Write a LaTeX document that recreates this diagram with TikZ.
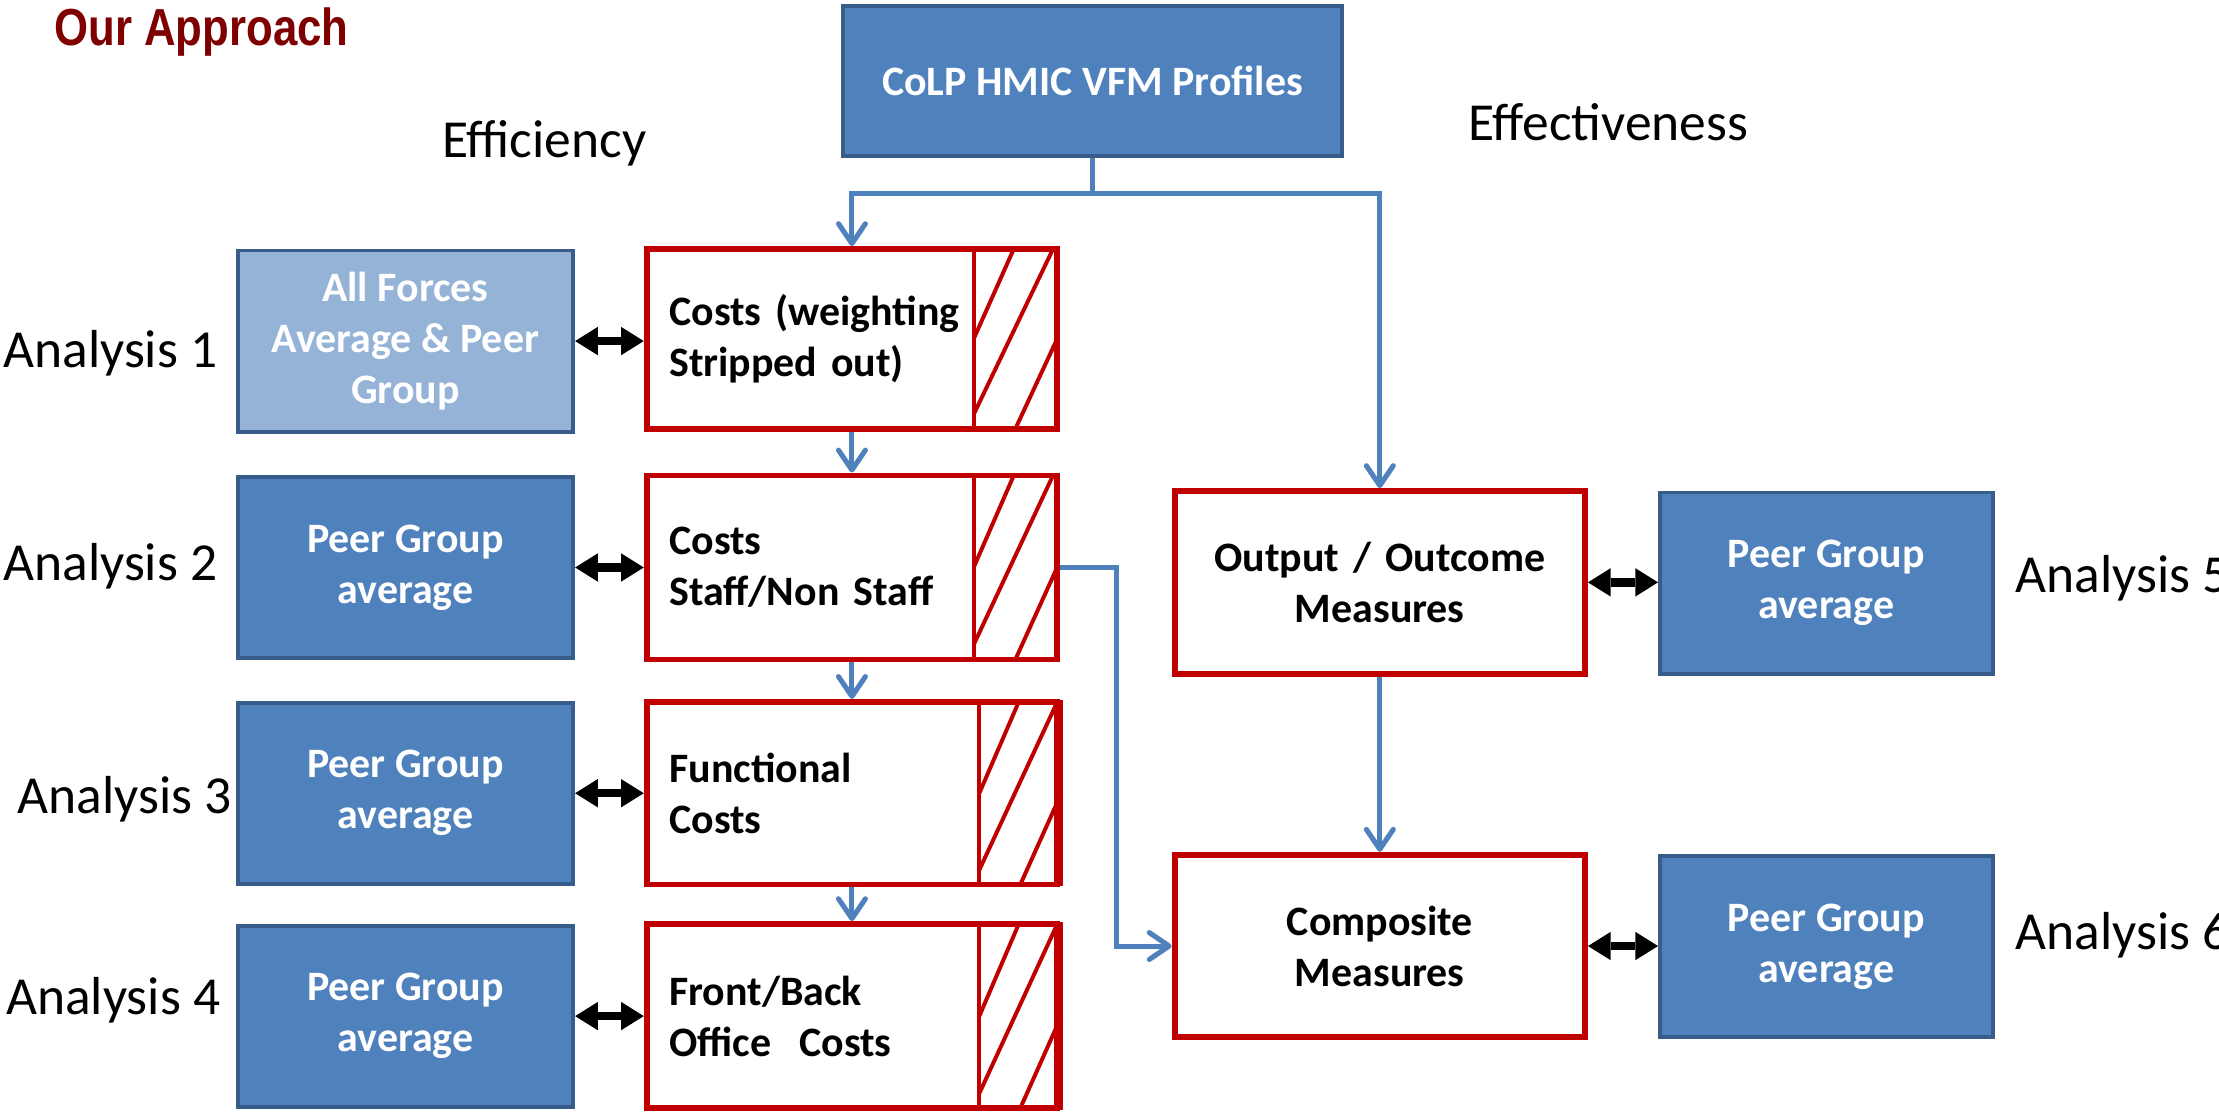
\documentclass[tikz,border=0pt]{standalone}
\usepackage{fontspec}
\setmainfont{Carlito}
\newfontfamily\ttlfont[FakeStretch=0.84]{Liberation Sans}
\usetikzlibrary{arrows.meta}
\definecolor{blueF}{HTML}{4F81BD}
\definecolor{blueD}{HTML}{385D8A}
\definecolor{lightB}{HTML}{95B3D7}
\definecolor{redB}{HTML}{C00000}
\definecolor{titleC}{HTML}{7F0000}
\newcommand\boxfont{\fontsize{14.8pt}{18pt}\selectfont\bfseries}
\newcommand\labfont{\fontsize{18.9pt}{22pt}\selectfont}
\newcommand\hatchstrip[4]{%
  \draw[hatchline] (#1,#3) rectangle (#2,#4);
  \draw[hatchline] ({0.52*#1+0.48*#2},#3) -- (#1,{0.5*#3+0.5*#4});
  \draw[hatchline] ({0.05*#1+0.95*#2},#3) -- (#1,{0.08*#3+0.92*#4});
  \draw[hatchline] (#2,{0.5*#3+0.5*#4}) -- ({0.5*#1+0.5*#2},#4);
}
\begin{document}
\begin{tikzpicture}[x=0.5pt,y=-0.5pt,
  bluebox/.style={draw=blueD, fill=blueF, line width=1.4pt, text=white, font=\boxfont, align=center, inner sep=0pt},
  lightbox/.style={bluebox, fill=lightB},
  redbox/.style={draw=redB, fill=white, line width=2.1pt, font=\boxfont, inner xsep=8pt, inner ysep=0pt,
                 text width=129pt, minimum width=145pt, align=left},
  hatchline/.style={draw=redB, line width=1.4pt},
  lab/.style={anchor=base west, inner sep=0pt, font=\labfont},
  bline/.style={draw=blueF, line width=1.8pt},
  barrow/.style={bline, -{Straight Barb[length=7pt,width=9.5pt,round]}},
  dbl/.style={draw=black, line width=3pt,
              {Triangle[length=8pt,width=10pt,line width=0pt]}-{Triangle[length=8pt,width=10pt,line width=0pt]}}
]
\useasboundingbox (0,0) rectangle (1568,786);

\node[anchor=base west, inner sep=0pt, text=titleC, font=\ttlfont\bfseries\fontsize{18.4pt}{20pt}\selectfont] (title) at (38,32) {Our Approach};

\node[bluebox, minimum width=176pt, minimum height=53pt] (C) at (772,57) {CoLP HMIC VFM Profiles};
\node[lab] (eff) at (312,111) {Efficiency};
\node[lab] (effv) at (1037,99) {Effectiveness};

% left blue boxes
\node[lightbox, minimum width=118.5pt, minimum height=64pt] (B1) at (286.5,241) {All Forces\\Average \& Peer\\Group};
\node[bluebox, minimum width=118.5pt, minimum height=64pt] (B2) at (286.5,401) {Peer Group\\average};
\node[bluebox, minimum width=118.5pt, minimum height=64pt] (B3) at (286.5,560.5) {Peer Group\\average};
\node[bluebox, minimum width=118.5pt, minimum height=64pt] (B4) at (286.5,718) {Peer Group\\average};

% red boxes
\node[redbox, minimum height=63.5pt] (R1) at (602,239.5) {Costs (weighting\\Stripped out)};
\node[redbox, minimum height=65pt] (R2) at (602,401) {Costs\\Staff/Non Staff};
\node[redbox, minimum height=64.5pt] (R3) at (602,560.5) {Functional\\Costs};
\node[redbox, minimum height=65pt] (R4) at (602,718) {Front/Back\\Office~~Costs};
\hatchstrip{688}{747}{176}{303}
\hatchstrip{688}{747}{336}{466}
\hatchstrip{692}{750}{496}{625}
\hatchstrip{692}{750}{653}{783}

% right side
\node[redbox, align=center, minimum height=64.5pt] (O) at (975,411.5) {Output / Outcome\\Measures};
\node[redbox, align=center, minimum height=64.5pt] (M) at (975,668.5) {Composite\\Measures};
\node[bluebox, minimum width=117.5pt, minimum height=64pt] (P5) at (1290.5,412) {Peer Group\\average};
\node[bluebox, minimum width=117.5pt, minimum height=64pt] (P6) at (1290.5,669) {Peer Group\\average};

% labels
\node[lab] (A1) at (2,260) {Analysis 1};
\node[lab] (A2) at (2,410) {Analysis 2};
\node[lab] (A3) at (12,575) {Analysis 3};
\node[lab] (A4) at (4,717) {Analysis 4};
\node[lab] (A5) at (1424,419) {Analysis 5};
\node[lab] (A6) at (1424,671) {Analysis 6};

% connectors
\coordinate (j) at (772,137);
\draw[bline] (C.south) -- (j);
\draw[barrow] (j) -| (R1.north);
\draw[barrow] (j) -| (O.north);
\draw[barrow] (R1.south) -- (R2.north);
\draw[barrow] (R2.south) -- (R3.north);
\draw[barrow] (R3.south) -- (R4.north);
\draw[barrow] (O.south) -- (M.north);
\coordinate (k) at (789,401);
\draw[barrow] (R2.east) -- (k) |- (M.west);

\draw[dbl] (B1.east) -- (B1.east -| R1.west);
\draw[dbl] (B2.east) -- (B2.east -| R2.west);
\draw[dbl] (B3.east) -- (B3.east -| R3.west);
\draw[dbl] (B4.east) -- (B4.east -| R4.west);
\draw[dbl] (O.east) -- (O.east -| P5.west);
\draw[dbl] (M.east) -- (M.east -| P6.west);
\end{tikzpicture}
\end{document}
